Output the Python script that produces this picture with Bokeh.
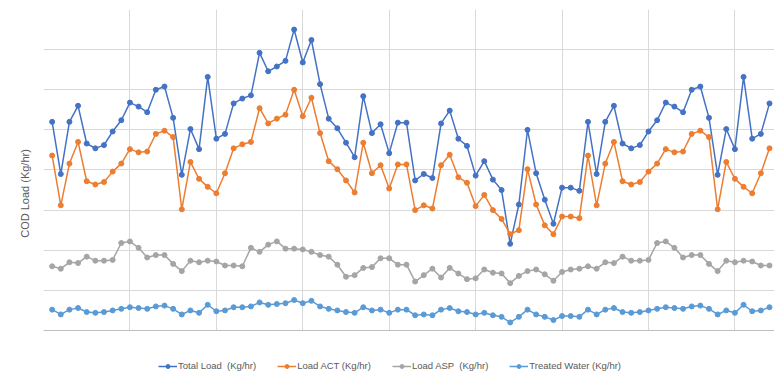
import math
from bokeh.plotting import figure
from bokeh.models import FixedTicker, Legend, LegendItem, Range1d, Span
from bokeh.embed import file_html
from bokeh.resources import INLINE

idx = list(range(1, 85))

total_load = [260, 195, 260, 280, 233, 227, 231, 248, 262, 284, 279, 272, 300, 304, 265, 194, 251, 226, 316, 239,
              245, 283, 289, 293, 346, 323, 329, 336, 375, 334, 362, 307, 264, 252, 234, 216, 292, 246, 257, 221,
              259, 259, 187, 195, 190, 258, 274, 239, 230, 193, 211, 188, 175, 108, 157, 250, 196, 163, 133, 178,
              178, 174, 260, 195, 260, 280, 233, 227, 231, 248, 262, 284, 279, 272, 300, 304, 265, 194, 251, 226,
              316, 239, 245, 283]
load_act = [218, 156, 208, 235, 186, 182, 185, 198, 208, 226, 222, 223, 245, 249, 241, 151, 210, 189, 179, 171,
            196, 227, 232, 235, 277, 258, 264, 269, 300, 267, 290, 246, 211, 201, 187, 172, 234, 196, 206, 177,
            207, 207, 150, 156, 152, 206, 219, 191, 184, 155, 169, 150, 139, 120, 125, 201, 157, 131, 120, 142,
            142, 140, 218, 156, 208, 235, 186, 182, 185, 198, 208, 226, 222, 223, 245, 249, 241, 151, 210, 189,
            179, 171, 196, 227]
load_asp = [80, 77, 85, 84, 92, 87, 87, 88, 109, 111, 103, 91, 94, 94, 83, 74, 87, 85, 87, 86,
            81, 81, 80, 103, 98, 107, 111, 102, 102, 101, 98, 94, 92, 82, 67, 69, 78, 79, 90, 90,
            82, 82, 61, 69, 77, 66, 78, 71, 64, 65, 76, 72, 71, 59, 68, 74, 76, 70, 62, 73,
            76, 77, 80, 77, 85, 84, 92, 87, 87, 88, 109, 111, 103, 91, 94, 94, 83, 74, 87, 85,
            87, 86, 81, 81]
treated = [26, 20, 26, 28, 23, 22, 23, 25, 27, 29, 28, 27, 30, 31, 27, 20, 25, 22, 32, 24,
           25, 29, 29, 30, 35, 32, 33, 34, 38, 34, 37, 30, 27, 25, 23, 22, 29, 25, 26, 22,
           26, 26, 19, 20, 19, 26, 28, 24, 23, 20, 22, 19, 17, 10, 17, 26, 20, 17, 13, 18,
           18, 17, 26, 20, 26, 28, 23, 22, 23, 25, 27, 29, 28, 27, 30, 31, 27, 20, 25, 22,
           32, 24, 25, 29]

series = [
    ("Total Load  (Kg/hr)", total_load, "#4472C4"),
    ("Load ACT (Kg/hr)", load_act, "#ED7D31"),
    ("Load ASP  (Kg/hr)", load_asp, "#A5A5A5"),
    ("Treated Water (Kg/hr)", treated, "#5B9BD5"),
]

x_ticks = [0, 10, 20, 30, 40, 50, 60, 70, 80]
y_ticks = [0, 50, 100, 150, 200, 250, 300, 350, 400]
y_label = "COD Load (Kg/hr)"

p = figure(width=774, height=377, output_backend="svg", toolbar_location=None,
           x_range=Range1d(0, 84.58), y_range=Range1d(-58.57, 400),
           min_border_left=43, min_border_right=0, min_border_top=9, min_border_bottom=0,
           x_axis_location=None)
p.outline_line_color = None
p.background_fill_color = "white"
p.border_fill_color = "white"

yax = p.yaxis[0]
yax.ticker = FixedTicker(ticks=[])
yax.bounds = (54, 400)
yax.axis_line_color = None
yax.major_tick_line_color = None
yax.minor_tick_line_color = None
yax.major_tick_out = 0
yax.major_label_standoff = 0
yax.axis_label = y_label
yax.axis_label_standoff = 13
yax.axis_label_text_font = "Liberation Sans"
yax.axis_label_text_font_size = "11px"
yax.axis_label_text_font_style = "normal"
yax.axis_label_text_color = "#595959"

p.xgrid.ticker = FixedTicker(ticks=x_ticks)
p.ygrid.ticker = FixedTicker(ticks=y_ticks)
p.xgrid.cross_bounds = (0, 400)
p.xgrid.grid_line_color = "#d9d9d9"
p.ygrid.grid_line_color = "#d9d9d9"

p.add_layout(Span(location=0, dimension="width", line_color="#bfbfbf", line_width=1))

items = []
for name, vals, col in series:
    r1 = p.line(idx, vals, line_color=col, line_width=1.5)
    r2 = p.scatter(idx, vals, size=5, fill_color=col, line_color=col)
    items.append(LegendItem(label=name, renderers=[r1, r2]))

legend = Legend(items=items, orientation="horizontal", location=(115, 6),
                glyph_width=19, glyph_height=10, label_height=10, label_standoff=1,
                spacing=21, padding=0, margin=0,
                label_text_font="Liberation Sans", label_text_font_size="9.5px",
                label_text_color="#595959", border_line_color=None,
                background_fill_alpha=0)
p.add_layout(legend, "center")

open("out.html", "w").write(file_html(p, INLINE))
